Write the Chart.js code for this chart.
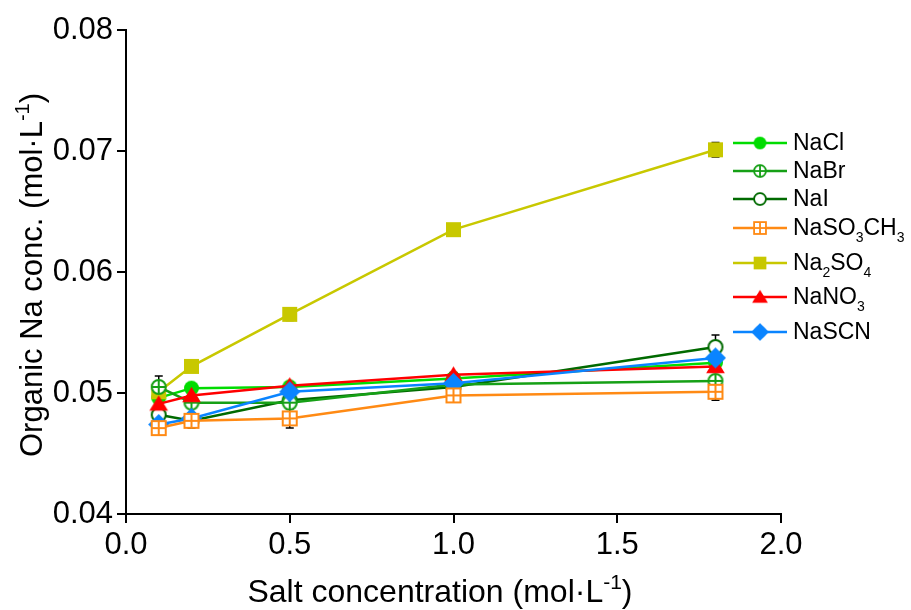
<!DOCTYPE html>
<html>
<head>
<meta charset="utf-8">
<title>Organic Na conc.</title>
<script src="https://cdn.jsdelivr.net/npm/chart.js@4.4.1/dist/chart.umd.min.js"></script>
<style>
    html, body { margin: 0; padding: 0; background: #fff; }
    #contenedor { width: 911px; height: 610px; }
</style>
</head>
<body>
<div id="contenedor"><canvas id="graficoSodio" width="911" height="610"></canvas></div>
<script>
// Concentración de sal (mol/L)
var concSal = [0.1, 0.2, 0.5, 1.0, 1.8];

var sales = ['NaCl', 'NaBr', 'NaI', 'NaSO3CH3', 'Na2SO4', 'NaNO3', 'NaSCN'];

// Na en fase orgánica (mol/L)
var naCl     = [0.0496, 0.0504, 0.0505, 0.0512, 0.0525];
var naBr     = [0.0505, 0.0492, 0.0492, 0.0507, 0.0510];
var naI      = [0.0482, 0.0477, 0.0494, 0.0505, 0.0538];
var naSO3CH3 = [0.0471, 0.0477, 0.0479, 0.0498, 0.0501];
var na2SO4   = [0.0501, 0.0522, 0.0565, 0.0635, 0.0701];
var naNO3    = [0.0491, 0.0498, 0.0506, 0.0515, 0.0522];
var naSCN    = [0.0474, 0.0479, 0.0501, 0.0508, 0.0529];

// Desviaciones
var errNaCl     = [0.0003, 0.0003, 0.0003, 0.0002, 0.0003];
var errNaBr     = [0.0009, 0.0003, 0.0002, 0.0002, 0.0003];
var errNaI      = [0.0004, 0.0003, 0.0003, 0.0002, 0.0010];
var errNaSO3CH3 = [0.0003, 0.0006, 0.0008, 0.0004, 0.0007];
var errNa2SO4   = [0.0003, 0.0003, 0.0005, 0.0002, 0.0006];
var errNaNO3    = [0.0003, 0.0003, 0.0003, 0.0002, 0.0003];
var errNaSCN    = [0.0003, 0.0003, 0.0003, 0.0002, 0.0003];

var ticksX = [0, 0.5, 1.0, 1.5, 2.0];
var ticksY = [0.04, 0.05, 0.06, 0.07, 0.08];

var fuente = '"Liberation Sans", Arial, sans-serif';

// Dibuja un marcador en un canvas aparte para usarlo como pointStyle
function marcador(tipo, color, tam) {
    var lado = tam + 4;
    var c = document.createElement('canvas');
    c.width = lado;
    c.height = lado;
    var g = c.getContext('2d');
    var m = lado / 2, r = tam / 2;
    g.lineWidth = 2;
    g.strokeStyle = color;
    g.fillStyle = color;
    switch (tipo) {
        case 'circulo':
            g.beginPath();
            g.arc(m, m, r, 0, 2 * Math.PI);
            g.fill();
            break;
        case 'circuloAbierto':
        case 'circuloCruz':
            g.beginPath();
            g.arc(m, m, r - 1, 0, 2 * Math.PI);
            g.fillStyle = '#fff';
            g.fill();
            g.stroke();
            if (tipo === 'circuloCruz') {
                g.beginPath();
                g.moveTo(m - r + 1, m); g.lineTo(m + r - 1, m);
                g.moveTo(m, m - r + 1); g.lineTo(m, m + r - 1);
                g.stroke();
            }
            break;
        case 'cuadro':
            g.fillRect(m - r, m - r, tam, tam);
            break;
        case 'cuadroCruz':
            g.fillStyle = '#fff';
            g.fillRect(m - r + 1, m - r + 1, tam - 2, tam - 2);
            g.strokeRect(m - r + 1, m - r + 1, tam - 2, tam - 2);
            g.beginPath();
            g.moveTo(m - r + 1, m); g.lineTo(m + r - 1, m);
            g.moveTo(m, m - r + 1); g.lineTo(m, m + r - 1);
            g.stroke();
            break;
        case 'triangulo':
            g.beginPath();
            g.moveTo(m, m - r);
            g.lineTo(m + r * 1.1, m + r * 0.8);
            g.lineTo(m - r * 1.1, m + r * 0.8);
            g.closePath();
            g.fill();
            break;
        case 'rombo':
            g.beginPath();
            g.moveTo(m, m - r); g.lineTo(m + r, m);
            g.lineTo(m, m + r); g.lineTo(m - r, m);
            g.closePath();
            g.fill();
            break;
    }
    return c;
}

var series = [
    { valores: naCl,     errores: errNaCl,     color: '#00dc00', tipo: 'circulo',        tam: 15, orden: 7 },
    { valores: naBr,     errores: errNaBr,     color: '#16a016', tipo: 'circuloCruz',    tam: 16, orden: 4 },
    { valores: naI,      errores: errNaI,      color: '#006a00', tipo: 'circuloAbierto', tam: 16, orden: 5 },
    { valores: naSO3CH3, errores: errNaSO3CH3, color: '#ff8a14', tipo: 'cuadroCruz',     tam: 16, orden: 1 },
    { valores: na2SO4,   errores: errNa2SO4,   color: '#c8c800', tipo: 'cuadro',         tam: 15, orden: 6 },
    { valores: naNO3,    errores: errNaNO3,    color: '#ff0000', tipo: 'triangulo',      tam: 17, orden: 3 },
    { valores: naSCN,    errores: errNaSCN,    color: '#0a84ff', tipo: 'rombo',          tam: 21, orden: 2 }
];

var datasets = series.map(function (s, i) {
    s.imagen = marcador(s.tipo, s.color, s.tam);
    return {
        label: sales[i],
        data: concSal.map(function (x, j) { return { x: x, y: s.valores[j] }; }),
        errores: s.errores,
        borderColor: s.color,
        backgroundColor: s.color,
        borderWidth: 2.5,
        pointStyle: s.imagen,
        pointRadius: 8,
        tension: 0,
        order: s.orden
    };
});

// Escribe una fórmula con los números como subíndices
function textoQuimico(ctx, texto, x, y, tam) {
    ctx.textBaseline = 'middle';
    ctx.textAlign = 'left';
    for (var k = 0; k < texto.length; k++) {
        var ch = texto[k];
        if (/[0-9]/.test(ch)) {
            ctx.font = Math.round(tam * 0.62) + 'px ' + fuente;
            ctx.fillText(ch, x, y + tam * 0.4);
        } else {
            ctx.font = tam + 'px ' + fuente;
            ctx.fillText(ch, x, y);
        }
        x += ctx.measureText(ch).width;
    }
}

// Texto con superíndice: partes = [normal, super, normal]
function anchoConSuper(ctx, partes, tam) {
    ctx.font = tam + 'px ' + fuente;
    var a = ctx.measureText(partes[0]).width + ctx.measureText(partes[2]).width;
    ctx.font = Math.round(tam * 0.65) + 'px ' + fuente;
    return a + ctx.measureText(partes[1]).width;
}

function textoConSuper(ctx, partes, x, y, tam) {
    ctx.textBaseline = 'alphabetic';
    ctx.textAlign = 'left';
    ctx.font = tam + 'px ' + fuente;
    ctx.fillText(partes[0], x, y);
    x += ctx.measureText(partes[0]).width;
    ctx.font = Math.round(tam * 0.65) + 'px ' + fuente;
    ctx.fillText(partes[1], x, y - tam * 0.42);
    x += ctx.measureText(partes[1]).width;
    ctx.font = tam + 'px ' + fuente;
    ctx.fillText(partes[2], x, y);
}

var barrasError = {
    id: 'barrasError',
    beforeDatasetsDraw: function (chart) {
        var ctx = chart.ctx, ex = chart.scales.x, ey = chart.scales.y;
        ctx.save();
        ctx.strokeStyle = '#000';
        ctx.lineWidth = 1.5;
        chart.data.datasets.forEach(function (ds) {
            ds.data.forEach(function (p, i) {
                var e = ds.errores[i];
                var px = ex.getPixelForValue(p.x);
                var arriba = ey.getPixelForValue(p.y + e);
                var abajo = ey.getPixelForValue(p.y - e);
                ctx.beginPath();
                ctx.moveTo(px, arriba); ctx.lineTo(px, abajo);
                ctx.moveTo(px - 4, arriba); ctx.lineTo(px + 4, arriba);
                ctx.moveTo(px - 4, abajo); ctx.lineTo(px + 4, abajo);
                ctx.stroke();
            });
        });
        ctx.restore();
    }
};

var leyendaYTitulos = {
    id: 'leyendaYTitulos',
    afterDraw: function (chart) {
        var ctx = chart.ctx;
        ctx.save();
        ctx.fillStyle = '#000';

        // leyenda
        var filas = [143, 171, 199, 228, 263, 297, 332];
        series.forEach(function (s, i) {
            var y = filas[i];
            ctx.strokeStyle = s.color;
            ctx.lineWidth = 2.5;
            ctx.beginPath();
            ctx.moveTo(733, y); ctx.lineTo(787, y);
            ctx.stroke();
            var w = s.imagen.width * 0.85;
            ctx.drawImage(s.imagen, 760 - w / 2, y - w / 2, w, w);
            ctx.fillStyle = '#000';
            textoQuimico(ctx, sales[i], 793, y + 1, 23);
        });

        // título eje x
        var tx = ['Salt concentration (mol\u00b7L', '-1', ')'];
        var ax = anchoConSuper(ctx, tx, 32);
        textoConSuper(ctx, tx, 440 - ax / 2, 602, 32);

        // título eje y
        var ty = ['Organic Na conc. (mol\u00b7L', '-1', ')'];
        var ay = anchoConSuper(ctx, ty, 31);
        ctx.translate(42, 275);
        ctx.rotate(-Math.PI / 2);
        textoConSuper(ctx, ty, -ay / 2, 0, 31);
        ctx.restore();
    }
};

var ctx = document.getElementById('graficoSodio').getContext('2d');
var grafico = new Chart(ctx, {
    type: 'line',
    data: { datasets: datasets },
    options: {
        responsive: false,
        animation: false,
        layout: { padding: { left: 0, right: 130, top: 30, bottom: 0 } },
        plugins: {
            legend: { display: false },
            tooltip: { enabled: false }
        },
        scales: {
            x: {
                type: 'linear',
                min: 0,
                max: 2,
                afterBuildTicks: function (escala) {
                    escala.ticks = ticksX.map(function (v) { return { value: v }; });
                },
                afterFit: function (escala) { escala.height = 96; },
                ticks: {
                    callback: function (v) { return Number(v).toFixed(1); },
                    font: { family: fuente, size: 31 },
                    color: '#000',
                    padding: 4,
                    maxRotation: 0,
                    autoSkip: false
                },
                grid: { drawOnChartArea: false, color: '#000', lineWidth: 2, tickLength: 9 },
                border: { color: '#000', width: 2 }
            },
            y: {
                min: 0.04,
                max: 0.08,
                afterBuildTicks: function (escala) {
                    escala.ticks = ticksY.map(function (v) { return { value: v }; });
                },
                afterFit: function (escala) { escala.width = 126; },
                ticks: {
                    callback: function (v) { return Number(v).toFixed(2); },
                    font: { family: fuente, size: 31 },
                    color: '#000',
                    padding: 4,
                    autoSkip: false
                },
                grid: { drawOnChartArea: false, color: '#000', lineWidth: 2, tickLength: 9 },
                border: { color: '#000', width: 2 }
            }
        }
    },
    plugins: [barrasError, leyendaYTitulos]
});
</script>
</body>
</html>
